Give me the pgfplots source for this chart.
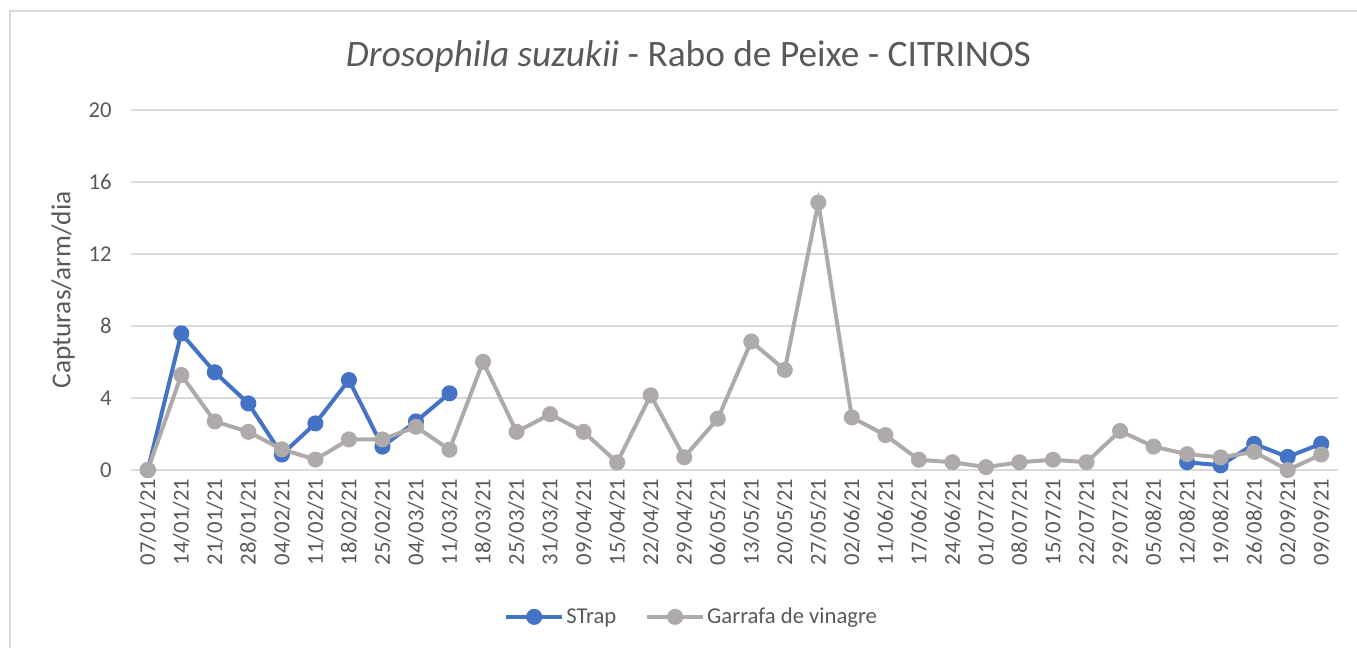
\documentclass[border=0pt]{standalone}
\usepackage{pgfplots}
\pgfplotsset{compat=1.18}
\usepackage{fontspec}
\setmainfont{Carlito}
\definecolor{sblue}{HTML}{4472C4}
\definecolor{sgray}{HTML}{AEAAAA}
\definecolor{gridc}{HTML}{D9D9D9}
\definecolor{txt}{HTML}{595959}
\begin{document}
\begin{tikzpicture}
\path[use as bounding box] (-98.25pt,-132.75pt) rectangle (919.5pt,352.5pt);
\draw[gridc, line width=0.9pt] (-90.75pt,-200pt) -- (-90.75pt,344.25pt) -- (1000pt,344.25pt);
\begin{axis}[
  scale only axis,
  width=905.25pt, height=270pt,
  at={(0pt,0pt)}, anchor=south west,
  xmin=-0.5, xmax=35.5, ymin=0, ymax=20,
  ytick={0,4,8,12,16,20},
  xtick={0,...,35},
  xticklabels={07/01/21,14/01/21,21/01/21,28/01/21,04/02/21,11/02/21,18/02/21,25/02/21,04/03/21,11/03/21,18/03/21,25/03/21,31/03/21,09/04/21,15/04/21,22/04/21,29/04/21,06/05/21,13/05/21,20/05/21,27/05/21,02/06/21,11/06/21,17/06/21,24/06/21,01/07/21,08/07/21,15/07/21,22/07/21,29/07/21,05/08/21,12/08/21,19/08/21,26/08/21,02/09/21,09/09/21},
  x tick label style={rotate=90, anchor=east, font=\fontsize{17}{19}\selectfont, text=txt},
  y tick label style={font=\fontsize{17}{19}\selectfont, text=txt},
  /pgf/number format/assume math mode=true,
  yticklabel shift=11pt,
  xticklabel shift=3pt,
  major tick length=0pt,
  ymajorgrids, grid style={gridc, line width=1pt},
  axis line style={draw=none},
  unbounded coords=jump,
  legend style={at={(axis description cs:0.4644,-0.408)}, anchor=center, draw=none, fill=none,
    legend columns=2, font=\fontsize{17}{19}\selectfont, text=txt,
    nodes={inner xsep=1.5pt},
    /tikz/every even column/.append style={column sep=20pt}},
  legend image code/.code={\draw[mark repeat=2, mark phase=2, #1] plot coordinates {(0cm,0cm) (0.74cm,0cm) (1.48cm,0cm)};},
  clip=false,
]
\addplot[sblue, line width=3pt, mark=*, mark size=4.5pt, mark options={solid}] coordinates {
(0,0) (1,7.59) (2,5.43) (3,3.70) (4,0.86) (5,2.59) (6,5.0) (7,1.30) (8,2.70) (9,4.26)
(10,nan) (11,nan) (12,nan) (13,nan) (14,nan) (15,nan) (16,nan) (17,nan) (18,nan) (19,nan)
(20,nan) (21,nan) (22,nan) (23,nan) (24,nan) (25,nan) (26,nan) (27,nan) (28,nan) (29,nan) (30,nan)
(31,0.43) (32,0.26) (33,1.45) (34,0.73) (35,1.46)};
\addlegendentry{STrap}
\addplot[sgray, line width=3pt, mark=*, mark size=4.5pt, mark options={solid}] coordinates {
(0,0) (1,5.28) (2,2.70) (3,2.12) (4,1.15) (5,0.58) (6,1.70) (7,1.70) (8,2.40) (9,1.13)
(10,6.01) (11,2.12) (12,3.10) (13,2.12) (14,0.42) (15,4.15) (16,0.71) (17,2.85) (18,7.14) (19,5.56)
(20,14.86) (21,2.92) (22,1.94) (23,0.57) (24,0.43) (25,0.16) (26,0.43) (27,0.57) (28,0.43) (29,2.17)
(30,1.30) (31,0.88) (32,0.70) (33,1.01) (34,0.0) (35,0.86)};
\addlegendentry{Garrafa de vinagre}
\end{axis}
\node[text=txt, font=\fontsize{28}{32}\selectfont] at (418.1pt,309.75pt) {\textit{Drosophila suzukii} - Rabo de Peixe - CITRINOS};
\node[text=txt, rotate=90, font=\fontsize{20.5}{24}\selectfont] at (-51pt,135pt) {Capturas/arm/dia};
\end{tikzpicture}
\end{document}
